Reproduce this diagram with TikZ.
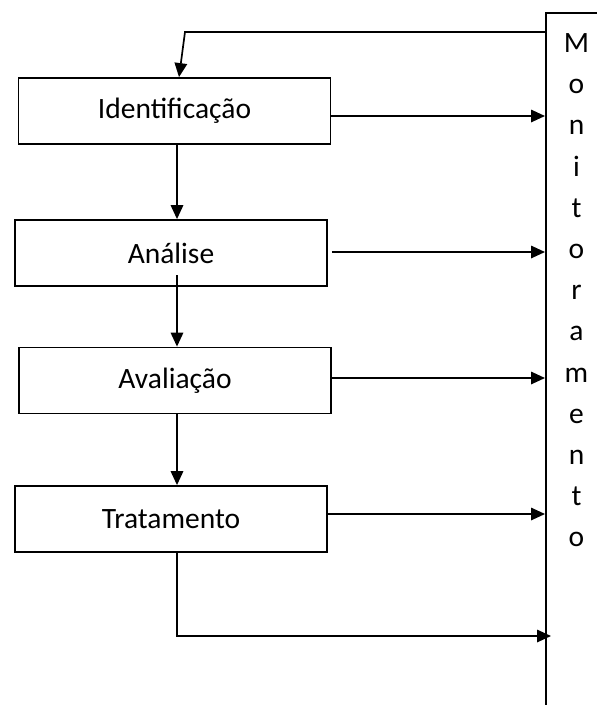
\documentclass[tikz,border=0pt]{standalone}
\usepackage{fontspec}
\setmainfont{Carlito}
\usetikzlibrary{arrows.meta}
\begin{document}
\begin{tikzpicture}[x=1pt,y=-1pt,
  stage/.style={draw,line width=1.8pt,minimum width=312pt,minimum height=66pt,
    inner sep=0pt,font=\fontsize{29.5}{35}\selectfont},
  link/.style={line width=1.7pt,-{Triangle[length=14pt,width=12.5pt]}}]
\useasboundingbox (0,0) rectangle (597,705);
\fill[white] (0,0) rectangle (597,705);
\clip (0,0) rectangle (597,705);

% process stages
\node[stage] (ident)      at (174.5,111)   {Identificação};
\node[stage] (analise)    at (171,253)     {Análise};
\node[stage] (avaliacao)  at (175,380.5)   {Avaliação};
\node[stage] (tratamento) at (171,519)     {Tratamento};

% monitoring column (runs off the page to the right and bottom)
\node[draw,line width=1.7pt,anchor=north west,minimum width=120pt,
  minimum height=740pt,inner sep=0pt] (monitor) at (545,12) {};
\node[anchor=north,inner sep=0pt,align=center,
  font=\fontsize{29.5}{41.2}\selectfont] (montext) at (576.5,33.4)
  {M\\o\\n\\i\\t\\o\\r\\a\\m\\e\\n\\t\\o};

% feedback from monitoring back to identification
\coordinate (fbstart) at (545,32);
\coordinate (fbturn) at (185,32);
\draw[link] (fbstart) -- (fbturn) -- ([xshift=4.5pt]ident.north);

% main sequence
\coordinate (a2start) at (177,275);
\draw[link] (ident.south -| 177,0) -- (analise.north -| 177,0);
\draw[link] (a2start) -- (avaliacao.north -| 177,0);
\draw[link] (avaliacao.south -| 177,0) -- (tratamento.north -| 177,0);

% reporting to monitoring
\draw[link] (ident.east |- 0,116) -- (monitor.west |- 0,116);
\draw[link] (analise.east |- 0,252) ++(4,0) -- (monitor.west |- 0,252);
\draw[link] (avaliacao.east |- 0,378) -- (monitor.west |- 0,378);
\draw[link] (tratamento.east |- 0,514) -- (monitor.west |- 0,514);
\coordinate (endtip) at (551,636);
\draw[link] (tratamento.south -| 177,0) -- (177,636) -- (endtip);
\end{tikzpicture}
\end{document}
